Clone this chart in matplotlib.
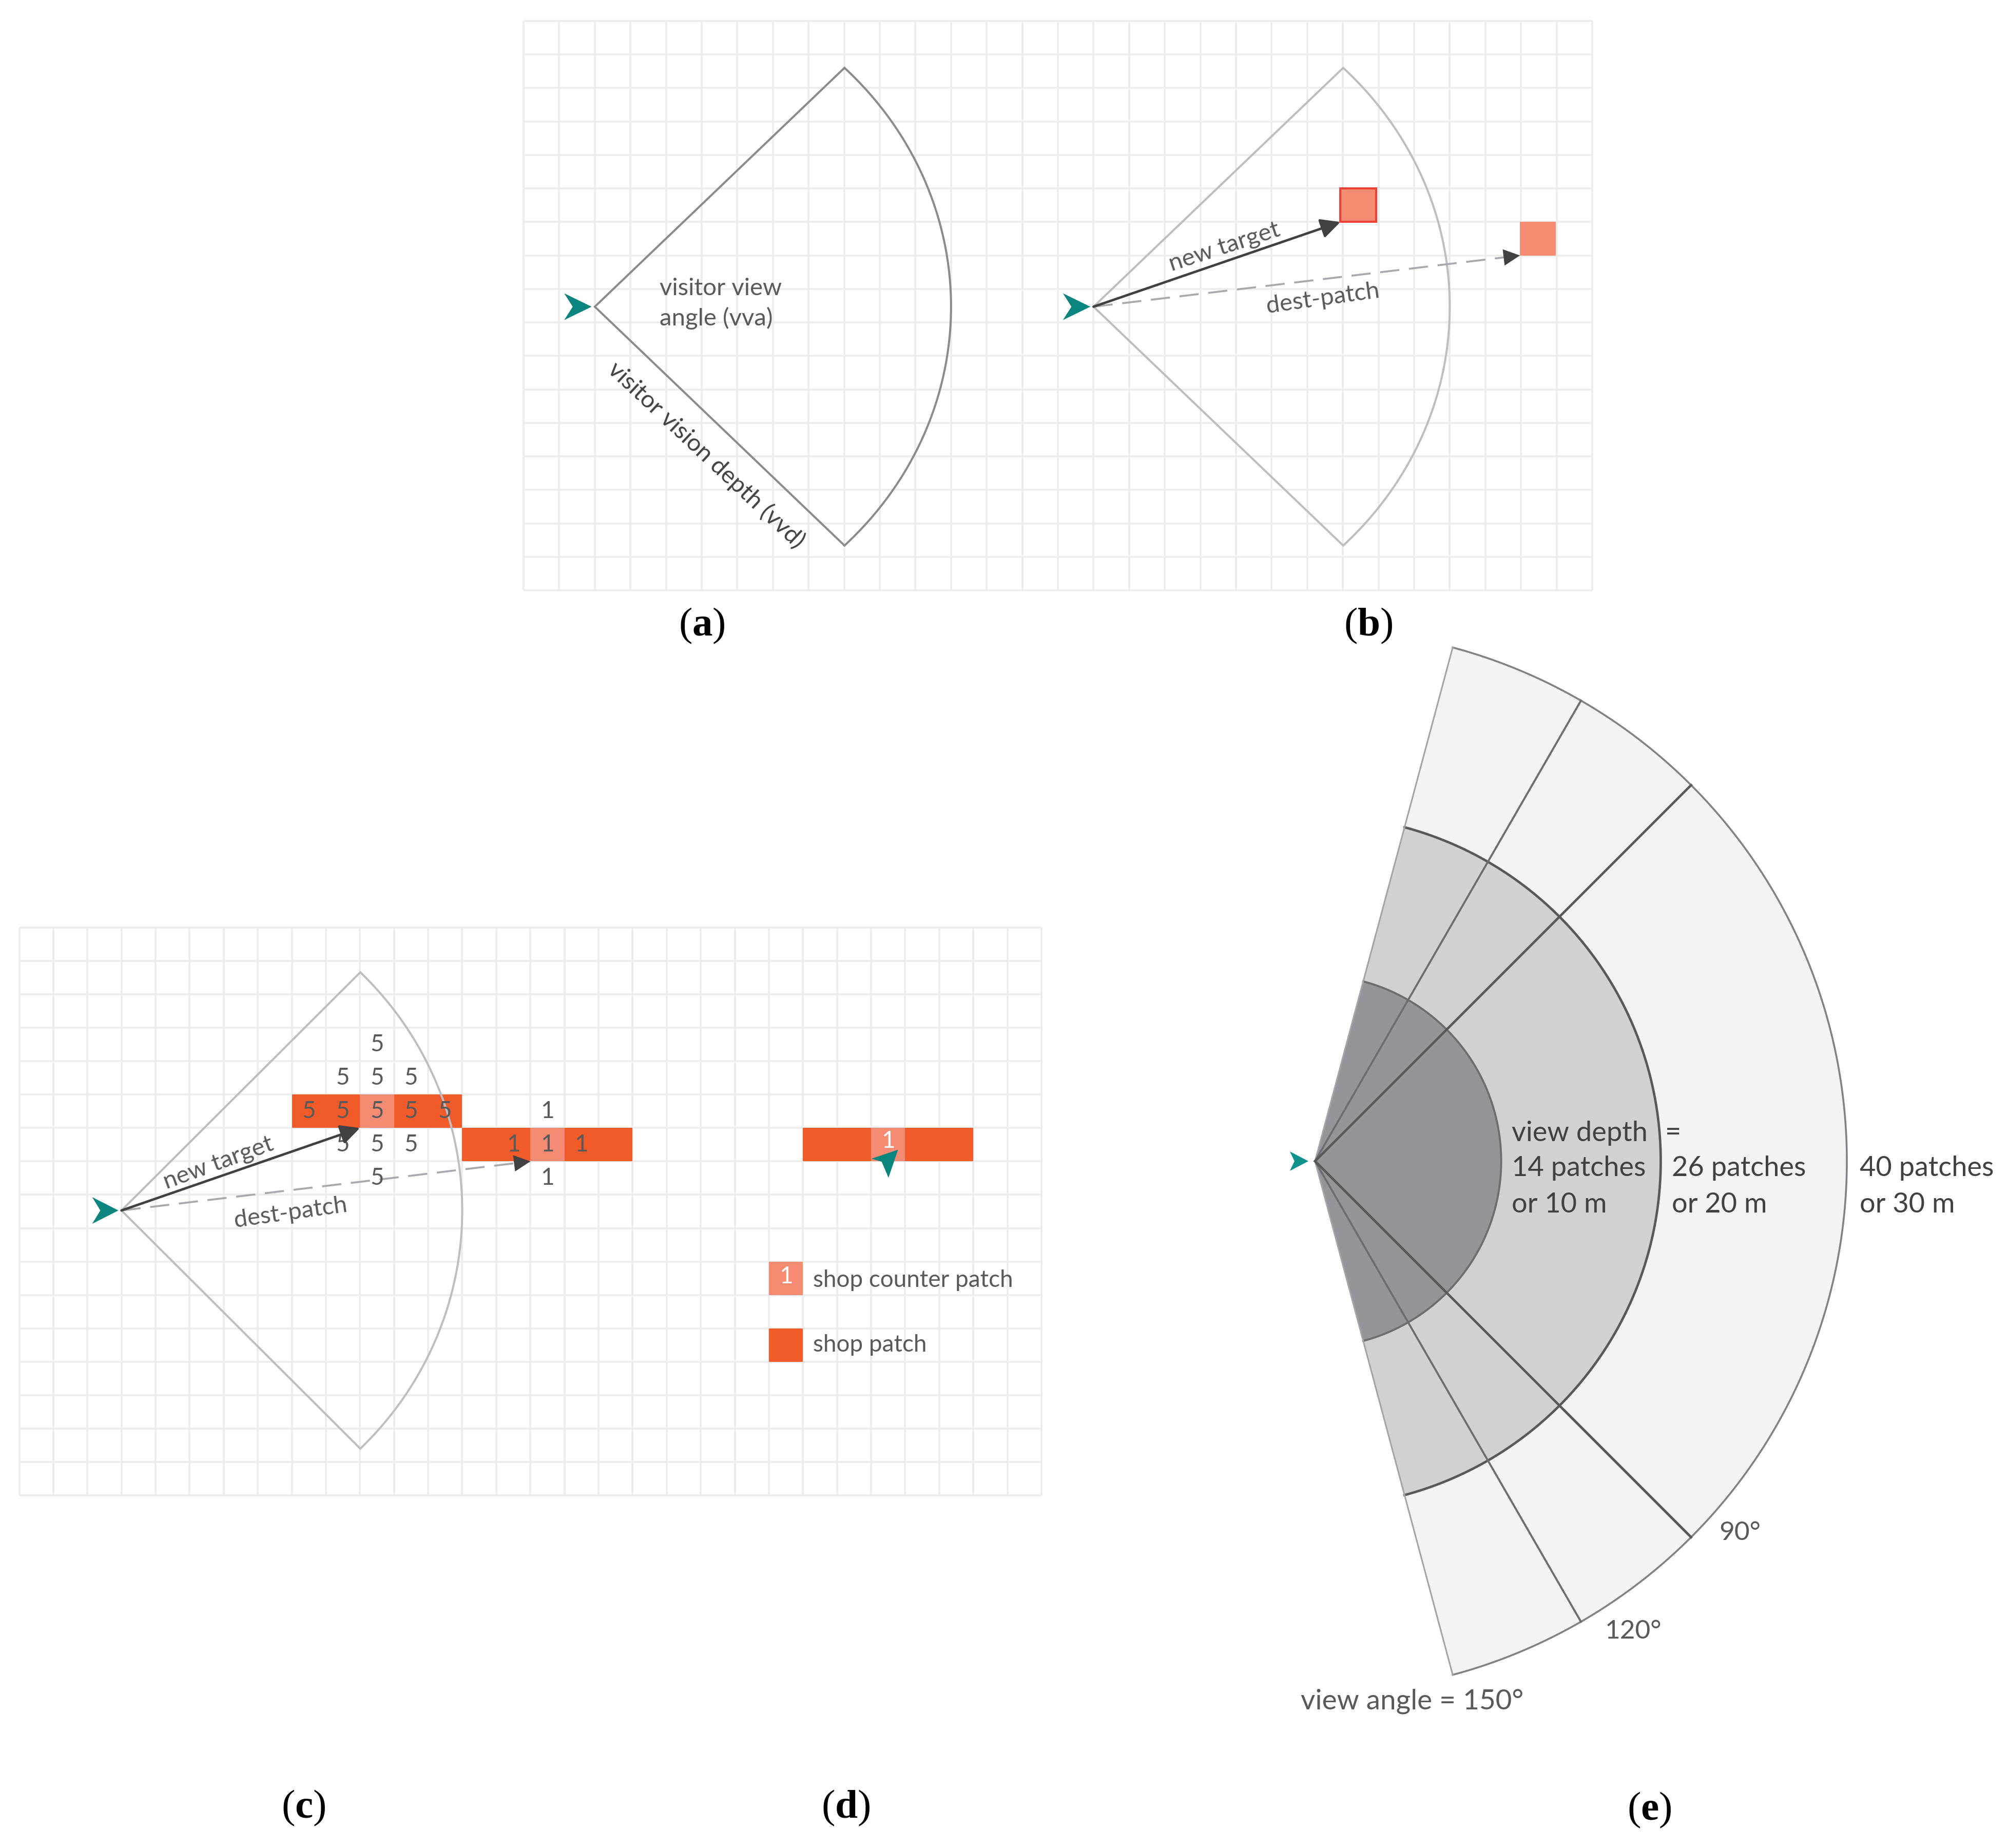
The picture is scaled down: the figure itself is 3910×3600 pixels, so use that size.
import numpy as np
import matplotlib
matplotlib.use('Agg')
import matplotlib.pyplot as plt
from matplotlib.patches import Wedge, Rectangle, Polygon

plt.rcParams['font.family'] = ['Lato', 'DejaVu Sans']
plt.rcParams['mathtext.fontset'] = 'custom'
plt.rcParams['mathtext.rm'] = 'Liberation Serif'
plt.rcParams['mathtext.bf'] = 'Liberation Serif:bold'

W, H = 3910, 3600

# all grid values are in patches
grid_cols = 30
grid_rows = 17
vision_depth = 10
vision_angle = 91
agent_a = (2, 8.53)
agent_b = (16, 8.53)
agent_c = (3, 8.47)
target_b = (22.93, 6)
dest_b = (27.97, 7)
target_c = (10, 6)
dest_c = (15, 7)
shop_cells_b = [(22.93, 5), (27.97, 6)]
shop_row_1 = [8, 9, 10, 11, 12]
shop_row_2 = [13, 14, 15, 16, 17]
shop_row_3 = [23, 24, 25, 26, 27]
counter_cols = [10, 15, 25]
agent_shape = [(-0.86, -0.4), (-0.09, 0), (-0.86, 0.4), (-0.62, 0)]
agent_d_shape = [(25.01, 6.92), (25.79, 6.65), (25.51, 7.49), (25.31, 7.01)]
score_5_cells = [(10.5, 3.5), (9.5, 4.5), (10.5, 4.5), (11.5, 4.5), (8.5, 5.5), (9.5, 5.5), (10.5, 5.5),
                 (11.5, 5.5), (12.5, 5.5), (9.5, 6.5), (10.5, 6.5), (11.5, 6.5), (10.5, 7.5)]
score_1_cells = [(15.5, 5.5), (14.5, 6.5), (15.5, 6.5), (16.5, 6.5), (15.5, 7.5)]

# panel e
view_depths = [40, 26, 14]
view_angles = [150, 120, 90]
depth_fills = ['#f3f3f4', '#d0d1d3', '#939598']
depth_edges = ['#808285', '#58595b', '#6d6e71']
depth_widths = [2.6, 3.4, 2.8]
angle_edges = ['#a3a4a6', '#6d6e71', '#58595b']
angle_widths = [2.2, 2.8, 3.4]

TEAL = '#0a857d'
ORANGE = '#f15a29'
SALMON = '#f58b73'
GRID = '#ececed'
TEXT = '#58595b'
DARK = '#414042'


def panel_axes(fig, left, top, right, bottom):
    ax = fig.add_axes([left / W, 1 - bottom / H, (right - left) / W, (bottom - top) / H])
    ax.axis('off')
    return ax


def draw_grid(ax):
    ax.set_xlim(0, grid_cols)
    ax.set_ylim(grid_rows, 0)
    ax.vlines(range(grid_cols + 1), 0, grid_rows, color=GRID, lw=2.6, zorder=1, clip_on=False)
    ax.hlines(range(grid_rows + 1), 0, grid_cols, color=GRID, lw=2.6, zorder=1, clip_on=False)


def draw_agent(ax, pos):
    pts = [(pos[0] + x, pos[1] + y) for x, y in agent_shape]
    ax.add_patch(Polygon(pts, closed=True, fc=TEAL, ec='none', zorder=6))


def draw_view(ax, pos, color):
    half = vision_angle / 2
    ax.add_patch(Wedge(pos, vision_depth, -half, half, fc='none', ec=color, lw=2.9, zorder=3))


def head_props():
    return dict(arrowstyle='-|>,head_length=1.0,head_width=0.5', color=DARK, lw=0,
                shrinkA=0, shrinkB=0, mutation_scale=23)


def draw_arrows(ax, start, target, dest):
    props = head_props()
    props['lw'] = 3.4
    ax.annotate('', xy=target, xytext=start, arrowprops=props, zorder=5)
    sx, sy = start
    dx, dy = dest
    ax.plot([sx, dx], [sy, dy], color='#a7a9ac', lw=2.7, linestyle=(0, (10, 5)), zorder=4)
    ax.annotate('', xy=dest, xytext=(dx + (sx - dx) * 0.06, dy + (sy - dy) * 0.06),
                arrowprops=head_props(), zorder=5)


def draw_shop(ax, cols, row, counter=None):
    for col in cols:
        color = SALMON if col == counter else ORANGE
        ax.add_patch(Rectangle((col, row), 1, 1, fc=color, ec='none', zorder=2))


def caption(page, x, y, letter):
    page.text(x, y, r'$\mathrm{(}\mathbf{%s}\mathrm{)}$' % letter, fontsize=57, color='black',
              ha='center', va='center')


fig = plt.figure(figsize=(W / 100, H / 100), dpi=100, facecolor='white')

# panels a and b
ax_ab = panel_axes(fig, 1020, 41, 3102, 1150)
draw_grid(ax_ab)
draw_view(ax_ab, agent_a, '#8a8b8d')
draw_agent(ax_ab, agent_a)
draw_view(ax_ab, agent_b, '#bcbec0')
draw_agent(ax_ab, agent_b)
ax_ab.add_patch(Rectangle(shop_cells_b[0], 1, 1, fc=SALMON, ec='#ef4136', lw=2.9, zorder=2))
ax_ab.add_patch(Rectangle(shop_cells_b[1], 1, 1, fc=SALMON, ec='none', zorder=2))
draw_arrows(ax_ab, agent_b, target_b, dest_b)

# panels c and d
ax_cd = panel_axes(fig, 37.5, 1807, 2029, 2913)
draw_grid(ax_cd)
draw_view(ax_cd, agent_c, '#bcbec0')
draw_agent(ax_cd, agent_c)
draw_shop(ax_cd, shop_row_1, 5, counter_cols[0])
draw_shop(ax_cd, shop_row_2, 6, counter_cols[1])
draw_shop(ax_cd, shop_row_3, 6, counter_cols[2])
draw_arrows(ax_cd, agent_c, target_c, dest_c)
ax_cd.add_patch(Polygon(agent_d_shape, closed=True, fc=TEAL, ec='none', zorder=6))
for x, y in score_5_cells:
    ax_cd.text(x, y, '5', fontsize=33, color=TEXT, ha='center', va='center', zorder=4)
for x, y in score_1_cells:
    ax_cd.text(x, y, '1', fontsize=33, color=TEXT, ha='center', va='center', zorder=4)
ax_cd.text(25.5, 6.4, '1', fontsize=33, color='white', ha='center', va='center', zorder=4)
# legend
ax_cd.add_patch(Rectangle((22, 10), 1, 1, fc=SALMON, ec='none', zorder=2))
ax_cd.text(22.5, 10.45, '1', fontsize=33, color='white', ha='center', va='center', zorder=4)
ax_cd.add_patch(Rectangle((22, 12), 1, 1, fc=ORANGE, ec='none', zorder=2))
ax_cd.text(23.3, 10.56, 'shop counter patch', fontsize=33, color=TEXT, ha='left', va='center', zorder=4)
ax_cd.text(23.3, 12.5, 'shop patch', fontsize=33, color=TEXT, ha='left', va='center', zorder=4)

# panel e, 25.9 px per patch with the agent at (2562, 2262)
ax_e = panel_axes(fig, 2440, 1240, 3900, 3320)
ax_e.set_xlim((2440 - 2562) / 25.9, (3900 - 2562) / 25.9)
ax_e.set_ylim((2262 - 3320) / 25.9, (2262 - 1240) / 25.9)
for depth, fill in zip(view_depths, depth_fills):
    half = view_angles[0] / 2
    ax_e.add_patch(Wedge((0, 0), depth, -half, half, fc=fill, ec='none', zorder=2))
for depth, edge, width in zip(view_depths, depth_edges, depth_widths):
    half = view_angles[0] / 2
    arc = np.radians(np.linspace(-half, half, 200))
    ax_e.plot(depth * np.cos(arc), depth * np.sin(arc), color=edge, lw=width, zorder=3)
for angle, edge, width in zip(view_angles, angle_edges, angle_widths):
    for sign in (-1, 1):
        rad = np.radians(sign * angle / 2)
        ax_e.plot([0, view_depths[0] * np.cos(rad)], [0, view_depths[0] * np.sin(rad)],
                  color=edge, lw=width, zorder=4)
ax_e.add_patch(Polygon([(-1.9, -0.73), (-0.5, 0), (-1.9, 0.73), (-1.55, 0)], closed=True,
                       fc='#0d928b', ec='none', zorder=6))

# page level text, pixel coordinates
page = fig.add_axes([0, 0, 1, 1])
page.set_xlim(0, W)
page.set_ylim(H, 0)
page.axis('off')
page.patch.set_alpha(0)

page.text(1285, 562, 'visitor view', fontsize=34, color=TEXT, ha='left', va='center')
page.text(1285, 620, 'angle (vva)', fontsize=34, color=TEXT, ha='left', va='center')
page.text(1376, 886, 'visitor vision depth (vvd)', fontsize=34, color=DARK, ha='center', va='center',
          rotation=-43.2, rotation_mode='anchor')
page.text(2385, 481, 'new target', fontsize=34, color=TEXT, ha='center', va='center',
          rotation=18, rotation_mode='anchor')
page.text(2577, 582, 'dest-patch', fontsize=34, color=TEXT, ha='center', va='center',
          rotation=8, rotation_mode='anchor')
page.text(425, 2266, 'new target', fontsize=34, color=TEXT, ha='center', va='center',
          rotation=20, rotation_mode='anchor')
page.text(566, 2363, 'dest-patch', fontsize=34, color=TEXT, ha='center', va='center',
          rotation=8, rotation_mode='anchor')

page.text(2945, 2207, 'view depth', fontsize=39, color=DARK, ha='left', va='center')
page.text(3244, 2207, '=', fontsize=39, color=DARK, ha='left', va='center')
page.text(2945, 2276, '14 patches', fontsize=39, color=DARK, ha='left', va='center')
page.text(2945, 2346, 'or 10 m', fontsize=39, color=DARK, ha='left', va='center')
page.text(3257, 2276, '26 patches', fontsize=39, color=DARK, ha='left', va='center')
page.text(3257, 2346, 'or 20 m', fontsize=39, color=DARK, ha='left', va='center')
page.text(3623, 2276, '40 patches', fontsize=39, color=DARK, ha='left', va='center')
page.text(3623, 2346, 'or 30 m', fontsize=39, color=DARK, ha='left', va='center')
page.text(3349, 2986, '90°', fontsize=37, color=TEXT, ha='left', va='center')
page.text(3127, 3178, '120°', fontsize=37, color=TEXT, ha='left', va='center')
page.text(2534, 3314, 'view angle = 150°', fontsize=39.5, color=TEXT, ha='left', va='center')

caption(page, 1367, 1219, 'a')
caption(page, 2666, 1219, 'b')
caption(page, 591, 3522, 'c')
caption(page, 1648, 3522, 'd')
caption(page, 3213, 3526, 'e')

fig.savefig('out.png', dpi=100)
